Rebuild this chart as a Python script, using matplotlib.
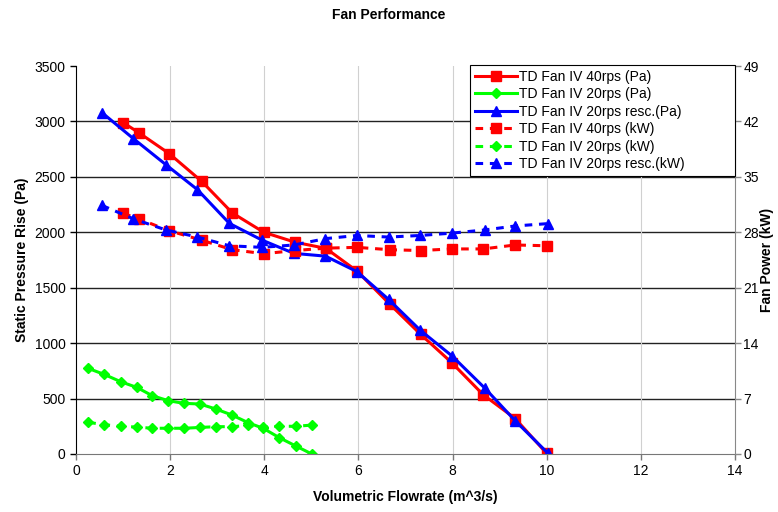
import numpy as np
import matplotlib
matplotlib.use('Agg')
import matplotlib.pyplot as plt

plt.rcParams['font.family'] = ['Liberation Sans', 'DejaVu Sans']

# TD Fan IV 40rps
x40 = [1.0, 1.33, 1.98, 2.67, 3.32, 3.99, 4.66, 5.31, 5.97, 6.67, 7.32, 7.98, 8.65, 9.33, 10.0]
p40 = [2990, 2900, 2710, 2460, 2175, 2000, 1910, 1855, 1650, 1350, 1080, 825, 535, 320, 5]
kw40 = [30.4, 29.7, 28.2, 27.0, 25.8, 25.3, 25.7, 26.0, 26.1, 25.8, 25.7, 25.9, 25.9, 26.4, 26.3]

# TD Fan IV 20rps
x20 = [0.26, 0.60, 0.95, 1.29, 1.62, 1.96, 2.29, 2.63, 2.97, 3.31, 3.66, 3.98, 4.32, 4.67, 5.01]
p20 = [772, 718, 652, 601, 526, 481, 457, 451, 406, 352, 282, 231, 147, 72, 0]
kw20 = [4.0, 3.7, 3.5, 3.4, 3.25, 3.25, 3.25, 3.35, 3.45, 3.45, 3.6, 3.4, 3.5, 3.5, 3.65]

# TD Fan IV 20rps rescaled
x20r = [0.55, 1.22, 1.91, 2.58, 3.26, 3.95, 4.63, 5.30, 5.97, 6.64, 7.31, 7.99, 8.69, 9.33, 10.03]
p20r = [3080, 2845, 2610, 2385, 2080, 1930, 1810, 1785, 1645, 1395, 1118, 884, 592, 300, 5]
kw20r = [31.4, 29.7, 28.3, 27.4, 26.3, 26.1, 26.4, 27.2, 27.6, 27.4, 27.6, 27.9, 28.3, 28.8, 29.1]

red = '#ff0000'
green = '#00ff00'
blue = '#0000ff'

fig = plt.figure(figsize=(7.78, 5.12), dpi=100)
ax = fig.add_axes([0.0977, 0.1133, 0.847, 0.7577])
ax2 = ax.twinx()

lw = 2.2
dash = (0, (2.5, 2.2))
h1, = ax.plot(x40, p40, color=red, lw=lw, marker='s', ms=7, label='TD Fan IV 40rps (Pa)')
h2, = ax.plot(x20, p20, color=green, lw=lw, marker='D', ms=5.5, label='TD Fan IV 20rps (Pa)')
h3, = ax.plot(x20r, p20r, color=blue, lw=lw, marker='^', ms=7.5, label='TD Fan IV 20rps resc.(Pa)')
h4, = ax2.plot(x40, kw40, color=red, lw=lw, ls=dash, marker='s', ms=7, label='TD Fan IV 40rps (kW)')
h5, = ax2.plot(x20, kw20, color=green, lw=lw, ls=dash, marker='D', ms=5.5, label='TD Fan IV 20rps (kW)')
h6, = ax2.plot(x20r, kw20r, color=blue, lw=lw, ls=dash, marker='^', ms=7.5, label='TD Fan IV 20rps resc.(kW)')

ax.set_xlim(0, 14)
ax.set_ylim(0, 3500)
ax2.set_ylim(0, 49)
ax.set_xticks(np.arange(0, 15, 2))
ax.set_yticks(np.arange(0, 3501, 500))
ax2.set_yticks(np.arange(0, 50, 7))

# gridlines: dark horizontal, light vertical
for y in range(500, 3500, 500):
    ax.axhline(y, color='#222222', lw=1.0, zorder=0.5)
for x in range(2, 14, 2):
    ax.axvline(x, color='#d0d0d0', lw=0.8, zorder=0.5)

for a in (ax, ax2):
    a.spines['top'].set_visible(False)
ax.spines['right'].set_visible(False)
ax.spines['left'].set_color('black')
ax.spines['bottom'].set_color('#777777')
ax2.spines['right'].set_color('#888888')
ax2.spines['left'].set_visible(False)
ax2.spines['bottom'].set_visible(False)

ax.tick_params(axis='both', labelsize=10, length=4, width=1, direction='out')
ax.tick_params(axis='x', colors='#777777', labelcolor='black')
ax2.tick_params(axis='y', labelsize=10, length=4, width=1, pad=2,
                colors='#888888', labelcolor='black')

ax.set_xlabel('Volumetric Flowrate (m^3/s)', fontsize=10, fontweight='bold', labelpad=8)
ax.set_ylabel('Static Pressure Rise (Pa)', fontsize=10, fontweight='bold', labelpad=4)
ax2.set_ylabel('Fan Power (kW)', fontsize=10, fontweight='bold', labelpad=1)
fig.suptitle('Fan Performance', fontsize=10, fontweight='bold', y=0.985)

leg = ax2.legend(handles=[h1, h2, h3, h4, h5, h6], loc='upper left',
                 bbox_to_anchor=(0.598, 0.0, 0.402, 1.003), mode='expand',
                 fontsize=10, frameon=True, fancybox=False,
                 edgecolor='black', framealpha=1, handlelength=3.0, handletextpad=0.2,
                 labelspacing=0.25, borderpad=0.35, borderaxespad=0)
leg.get_frame().set_linewidth(0.8)

fig.savefig('out.png', dpi=100)
